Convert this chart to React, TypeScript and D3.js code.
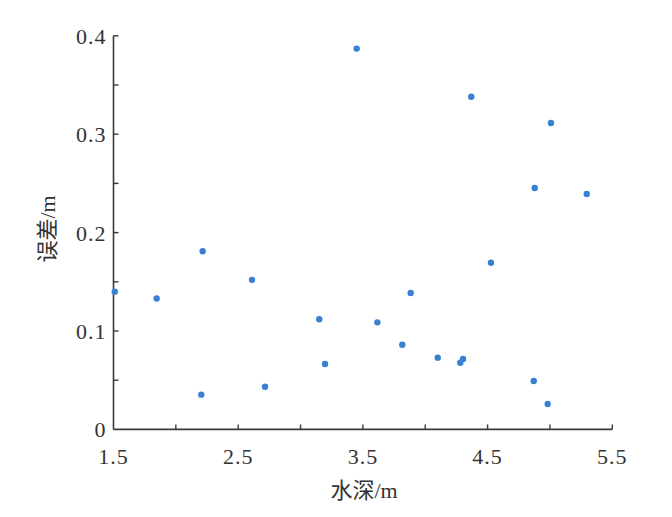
import React from "react";
import * as d3 from "d3";

const depth = [1.51, 1.846, 2.215, 2.204, 2.611, 3.45, 4.369, 5.008, 4.878, 5.295, 4.527, 3.883, 3.15, 3.616, 3.816, 3.196, 4.1, 4.303, 4.281, 2.715, 4.87, 4.982];
const error = [0.14, 0.133, 0.181, 0.0353, 0.152, 0.387, 0.338, 0.3114, 0.2453, 0.2392, 0.1694, 0.1386, 0.1119, 0.1088, 0.0861, 0.0665, 0.0729, 0.0715, 0.0678, 0.0434, 0.0492, 0.0258];
const xTicks = [1.5, 2.0, 2.5, 3.0, 3.5, 4.0, 4.5, 5.0, 5.5];
const xLabels = [1.5, 2.5, 3.5, 4.5, 5.5];
const yTicks = [0, 0.05, 0.1, 0.15, 0.2, 0.25, 0.3, 0.35, 0.4];
const yLabels = [0, 0.1, 0.2, 0.3, 0.4];
const xTitle = "水深/m";
const yTitle = "误差/m";

export default function App() {
  const W = 672, H = 517;
  const x = d3.scaleLinear().domain([1.5, 5.5]).range([113.5, 612.3]);
  const y = d3.scaleLinear().domain([0, 0.4]).range([429.4, 35.8]);
  const axisColor = "#3a3a3a";
  const font = "'Liberation Serif', 'Times New Roman', 'Noto Sans CJK SC', serif";
  const fmt = (v: number) => (v === 0 ? "0" : v.toFixed(1));
  return (
    <svg width={W} height={H} style={{ position: "absolute", left: 0, top: 0, background: "#fff" }}>
      <rect x={0} y={0} width={W} height={H} fill="#fff" />
      {/* axes */}
      <line x1={x(1.5)} x2={x(5.5)} y1={y(0)} y2={y(0)} stroke={axisColor} strokeWidth={1.6} />
      <line x1={x(1.5)} x2={x(1.5)} y1={y(0)} y2={y(0.4)} stroke={axisColor} strokeWidth={1.6} />
      {xTicks.slice(1).map((t) => (
        <line key={"xt" + t} x1={x(t)} x2={x(t)} y1={y(0)} y2={y(0) - 5} stroke={axisColor} strokeWidth={1.4} />
      ))}
      {yTicks.slice(1).map((t) => (
        <line key={"yt" + t} x1={x(1.5)} x2={x(1.5) + 5} y1={y(t)} y2={y(t)} stroke={axisColor} strokeWidth={1.4} />
      ))}
      {xLabels.map((t) => (
        <text key={"xl" + t} x={x(t)} y={463.5} textAnchor="middle" fontFamily={font} fontSize={22} letterSpacing={1} fill="#333">
          {fmt(t)}
        </text>
      ))}
      {yLabels.map((t) => (
        <text key={"yl" + t} x={106.5} y={y(t) + 8} textAnchor="end" fontFamily={font} fontSize={22} letterSpacing={1} fill="#333">
          {fmt(t)}
        </text>
      ))}
      <text x={364} y={498} textAnchor="middle" fontFamily={font} fontSize={22} fill="#333">
        {xTitle}
      </text>
      <text transform="translate(55,229) rotate(-90)" textAnchor="middle" fontFamily={font} fontSize={22} fill="#333">
        {yTitle}
      </text>
      {depth.map((d, i) => (
        <circle key={"p" + i} cx={x(d)} cy={y(error[i])} r={3.2} fill="#3a80d2" />
      ))}
    </svg>
  );
}
